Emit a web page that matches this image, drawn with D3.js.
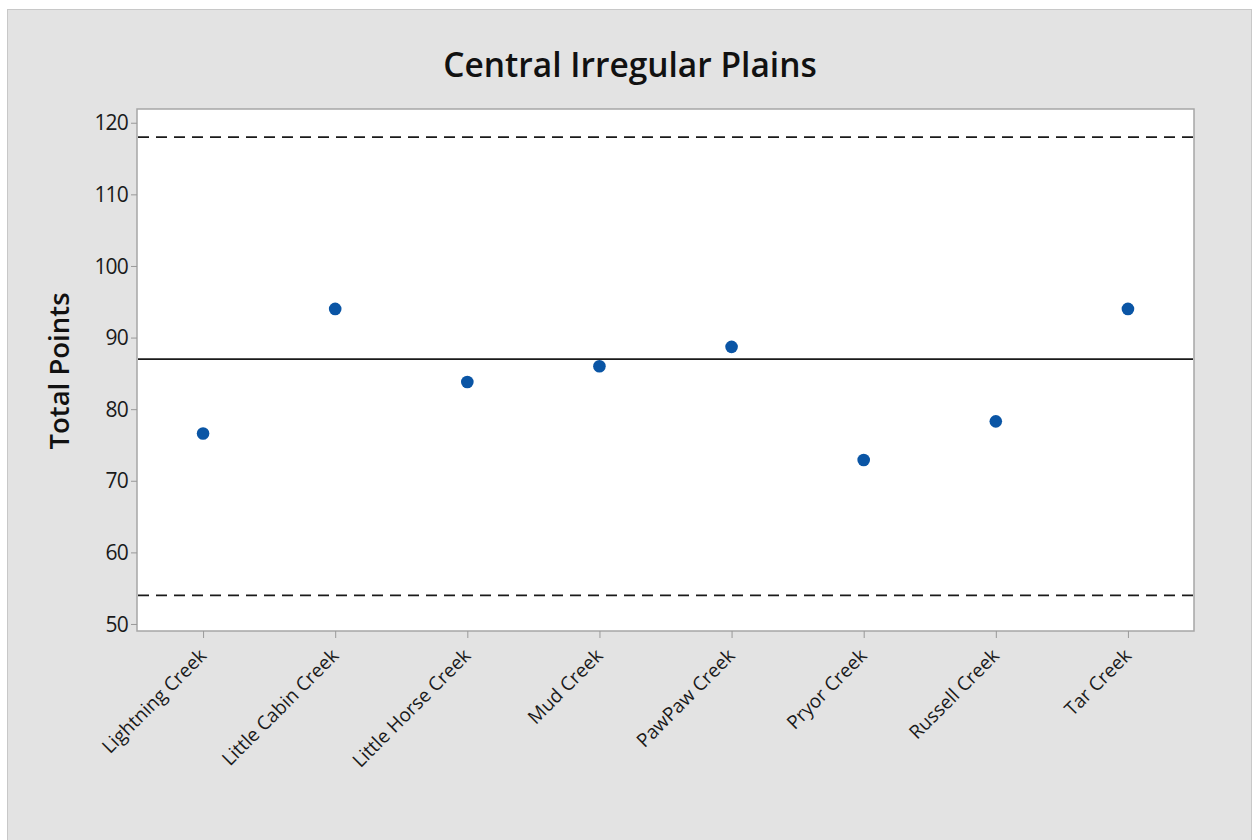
<!DOCTYPE html>
<html>
<head>
<meta charset="utf-8">
<script src="https://cdn.jsdelivr.net/npm/d3@7"></script>
<style>
  html, body { margin: 0; padding: 0; background: #ffffff; }
  svg { display: block; font-family: "Open Sans", "Noto Sans", sans-serif; }
</style>
</head>
<body>
<svg id="chart" width="1257" height="840"></svg>
<script>
// Streams in the Central Irregular Plains ecoregion and their total points
const sites = ["Lightning Creek", "Little Cabin Creek", "Little Horse Creek", "Mud Creek",
               "PawPaw Creek", "Pryor Creek", "Russell Creek", "Tar Creek"];
const totalPoints = [76.6, 94, 83.8, 86, 88.7, 72.9, 78.3, 94];
const centerLine = 87;
const limitLines = [118, 54];
const yTicks = [50, 60, 70, 80, 90, 100, 110, 120];

const svg = d3.select("#chart");

// outer panel
svg.append("rect").attr("x", 7.5).attr("y", 9.5).attr("width", 1244).attr("height", 840)
  .attr("fill", "#e3e3e3").attr("stroke", "#c8c8c8").attr("stroke-width", 1);

const plot = { left: 137, top: 109, right: 1194, bottom: 631 };

const x = d3.scalePoint().domain(sites).range([plot.left, plot.right]).padding(0.5);
const y = d3.scaleLinear().domain([49.02, 121.92]).range([plot.bottom, plot.top]);

// plot area
svg.append("rect").attr("x", plot.left).attr("y", plot.top)
  .attr("width", plot.right - plot.left).attr("height", plot.bottom - plot.top)
  .attr("fill", "#ffffff").attr("stroke", "#a6a6a6").attr("stroke-width", 1.5);

// y axis
const yAxis = svg.append("g").attr("transform", `translate(${plot.left},0)`)
  .call(d3.axisLeft(y).tickValues(yTicks).tickSize(6).tickPadding(3));
yAxis.select(".domain").remove();
yAxis.selectAll(".tick line").attr("stroke", "#999");
yAxis.selectAll(".tick text").attr("font-size", 21).attr("fill", "#1a1a1a")
  .attr("font-family", "'Open Sans', sans-serif").attr("letter-spacing", "-0.8")
  .attr("dy", "0.34em");

// x axis
const xAxis = svg.append("g").attr("transform", `translate(0,${plot.bottom})`)
  .call(d3.axisBottom(x).tickSize(7).tickPadding(4));
xAxis.select(".domain").remove();
xAxis.selectAll(".tick line").attr("stroke", "#999");
xAxis.selectAll(".tick text")
  .attr("font-size", 19).attr("fill", "#1a1a1a")
  .attr("font-family", "'Open Sans', sans-serif")
  .attr("text-anchor", "end")
  .attr("dy", 0)
  .attr("x", 0).attr("y", 0)
  .attr("transform", "translate(4,26) rotate(-45)");

// control limits (dashed) and center line (solid)
svg.append("g").selectAll("line.limit").data(limitLines).join("line")
  .attr("class", "limit")
  .attr("x1", plot.left + 1).attr("x2", plot.right - 1)
  .attr("y1", d => y(d)).attr("y2", d => y(d))
  .attr("stroke", "#1a1a1a").attr("stroke-width", 1.8).attr("stroke-dasharray", "11,7");

svg.append("line")
  .attr("x1", plot.left + 1).attr("x2", plot.right - 1)
  .attr("y1", y(centerLine)).attr("y2", y(centerLine))
  .attr("stroke", "#1a1a1a").attr("stroke-width", 1.8);

// points
svg.append("g").selectAll("circle").data(sites).join("circle")
  .attr("cx", d => x(d))
  .attr("cy", (d, i) => y(totalPoints[i]))
  .attr("r", 6.3)
  .attr("fill", "#0a55a5");

// title
svg.append("text").attr("x", 630).attr("y", 77).attr("text-anchor", "middle")
  .attr("font-size", 33.5).attr("font-weight", 600).attr("fill", "#111")
  .text("Central Irregular Plains");

// y-axis title
svg.append("text").attr("transform", "translate(69,371) rotate(-90)")
  .attr("text-anchor", "middle").attr("font-size", 27.5).attr("font-weight", 600)
  .attr("fill", "#111").text("Total Points");
</script>
</body>
</html>
